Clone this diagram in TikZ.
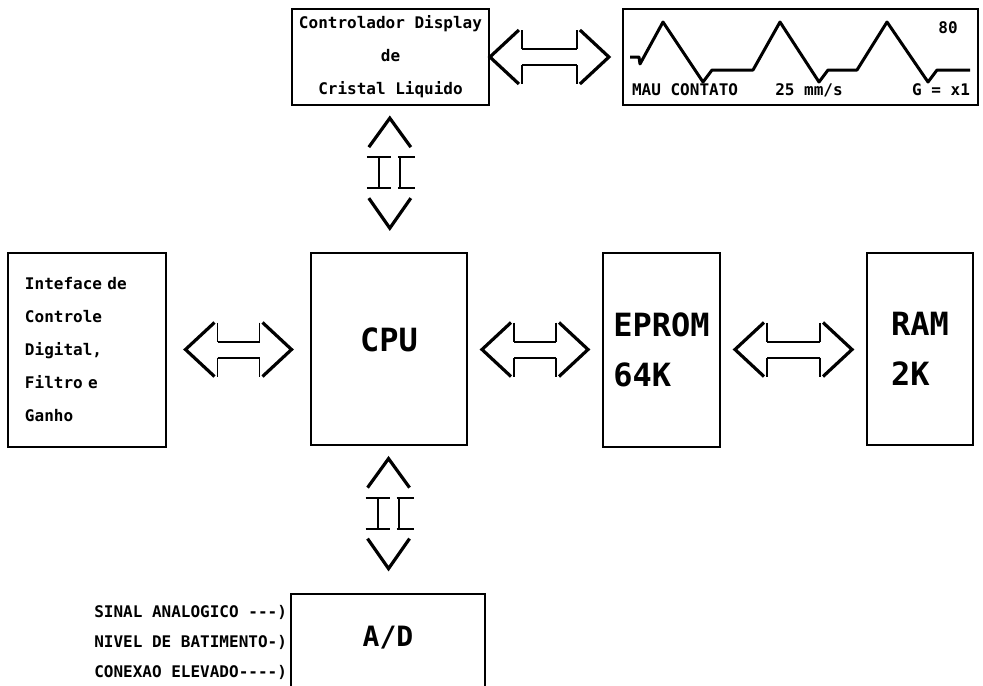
\documentclass[tikz,border=0pt]{standalone}
\usepackage{fontspec}
\setmonofont{DejaVu Sans Mono}
\usepackage{tikz}
\usetikzlibrary{calc,positioning}

\tikzset{
  pics/hbus/.style={code={
    \pgfmathsetmacro{\hw}{#1/2}
    \pgfmathsetmacro{\cw}{#1/2-29}
    \pgfmathsetmacro{\tw}{#1/2-32}
    \draw[chev] (-\cw,-27) -- (-\hw,0) -- (-\cw,27);
    \draw[chev] (\cw,-27) -- (\hw,0) -- (\cw,27);
    \draw[tick] (-\tw,-27) -- (-\tw,-8) (-\tw,8) -- (-\tw,27) (\tw,-27) -- (\tw,-8) (\tw,8) -- (\tw,27);
    \draw[rail] (-\tw,-8) -- (\tw,-8) (-\tw,8) -- (\tw,8);
  }},
  pics/vbus/.style={code={
    \draw[chev] (-21,-26) -- (0,-55) -- (21,-26);
    \draw[chev] (-21,25) -- (0,55) -- (21,25);
    \draw[rail] (-11,-16) -- (-11,15) (-23,-16) -- (1,-16) (-23,15) -- (1,15);
    \draw[rail] (10,-16) -- (10,15) (8,-16) -- (25,-16) (8,15) -- (25,15);
  }},
}

\begin{document}
\begin{tikzpicture}[x=0.5pt,y=-0.5pt,
  every node/.style={font=\ttfamily\bfseries\fontsize{8}{16.5}\selectfont},
  box/.style={draw,line width=1pt,inner sep=2pt},
  big/.style={font=\ttfamily\bfseries\fontsize{16}{25}\selectfont},
  chev/.style={line width=1.6pt},
  rail/.style={line width=1pt},
  tick/.style={line width=0.6pt},
  wave/.style={line width=1.5pt,line join=round}]
  \useasboundingbox (0,0) rectangle (983,685);
  \clip (0,0) rectangle (983,685);

  \node[box,minimum width=98.5pt,minimum height=48pt,align=center] (lcdc) at (390.5,57) {Controlador Display\\de\\Cristal Liquido};
  \node[box,minimum width=177.5pt,minimum height=48pt] (lcd) at (800.5,57) {};
  \node[box,text width=62pt,inner xsep=8.5pt,minimum height=97pt,align=left] (iface) at (87,350) {Inteface de\\Controle\\Digital,\\Filtro e\\Ganho};
  \node[box,big,minimum width=78pt,minimum height=96pt,text depth=9pt] (cpu) at (389,349) {CPU};
  \node[box,big,minimum width=58.5pt,minimum height=97pt,align=left] (eprom) at (661.5,350) {EPROM\\64K};
  \node[box,big,minimum width=53pt,minimum height=96pt,align=left] (ram) at (920,349) {RAM\\2K};
  \node[box,anchor=north,minimum width=97pt,font=\ttfamily\bfseries\fontsize{14}{16}\selectfont,text height=10pt,text depth=60pt,inner ysep=16pt] (ad) at (388,593) {A/D};

  \node[anchor=east] (sinal) at (294,612) {SINAL ANALOGICO ---)};
  \node[anchor=east] (nivel) at (294,642) {NIVEL DE BATIMENTO-)};
  \node[anchor=east] (conex) at (294,672) {CONEXAO ELEVADO----)};

  \node (bpm) at (948,28) {80};
  \node[anchor=west] (msg) at (625,90) {MAU CONTATO};
  \node (vel) at (809,90) {25 mm/s};
  \node (gain) at (941,90) {G = x1};
  \draw[wave] (630,57) -- (639,57) -- (640,64) -- (663,22) -- (703,82) -- (712,70) -- (753,70) -- (780,22) -- (819,82) -- (828,70) -- (857,70) -- (887,22) -- (928,82) -- (937,70) -- (970,70);

  \pic at ($(iface.east)!0.5!(cpu.west)$) {hbus=106};
  \pic at ($(cpu.east)!0.5!(eprom.west)$) {hbus=106};
  \pic at ($(eprom.east)!0.5!(ram.west)$) {hbus=117};
  \pic at ($(lcdc.east)!0.45!(lcd.west)$) {hbus=119};
  \pic at ($(lcdc.south)!0.46!(cpu.north)$) {vbus};
  \pic at ($(cpu.south)!0.46!(ad.north)$) {vbus};
\end{tikzpicture}
\end{document}
